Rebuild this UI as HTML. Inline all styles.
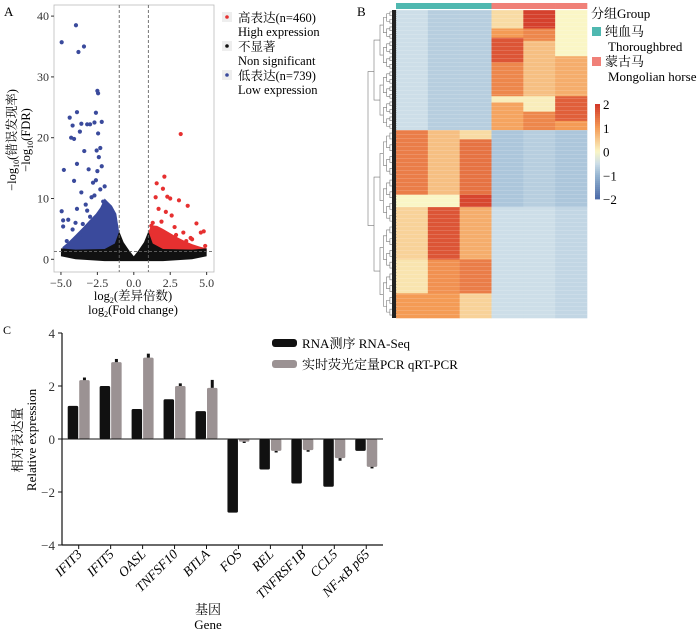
<!DOCTYPE html>
<html><head><meta charset="utf-8"><style>
html,body{margin:0;padding:0;background:#fff;}
svg{display:block;font-family:"Liberation Serif","Noto Serif CJK SC",serif;}
</style></head><body>
<svg id="fig" width="700" height="631" viewBox="0 0 700 631" xmlns="http://www.w3.org/2000/svg">
<g id="pA"></g>
<g id="pB"></g>
<g id="pC"></g>
</svg>
<script>
// ---------- Panel A data ----------
const blueX = [-4.95,-3.97,-3.42,-3.8,-2.5,-2.45,-3.9,-2.6,-4.4,-2.2,-3.2,-3.6,-4.2,-3.0,-2.7,-4.3,-4.1,-2.45,-3.7,-4.8,-4.1,-4.95,-4.85,-4.85,-3.9,-3.4,-2.55,-2.3,-2.5,-3.1,-2.8,-2.2,-3.6,-2.7,-3.9,-4.5,-3.3,-2.1,-2.6,-3.0,-4.2,-3.5,-2.3,-2.0,-2.9,-3.2,-4.0,-4.6,-3.7,-2.4];
const blueY = [35.7,38.5,35,34.1,27.7,27.3,24.2,24.1,23.3,22.6,22.2,22.3,22.0,22.2,22.5,20.0,19.8,20.7,21.0,14.7,12.9,7.9,6.4,5.4,15.7,17.8,17.9,18.3,14.5,14.8,12.6,15.3,11.0,10.5,8.3,6.5,9.0,9.5,13.0,7.0,4.9,5.8,11.5,12.0,10.2,8.0,6.0,3.0,4.0,16.8];
const redX = [3.22,2.1,1.57,2.0,2.3,2.5,3.1,1.5,3.7,1.7,2.2,2.6,4.3,4.8,4.6,3.4,1.2,3.9,2.9,1.9,1.3,2.8,4.0,4.9,3.6];
const redY = [20.6,13.6,12.5,11.6,10.3,10.0,9.7,10.2,8.8,8.3,7.8,7.2,5.9,4.6,4.4,4.4,5.5,3.5,4.0,6.2,6.0,5.3,3.3,2.2,3.0];
const blueEnvX = [-1,-1.2,-1.5,-1.8,-2.0,-2.3,-2.6,-3.0,-3.5,-4.0,-4.5,-4.9,-4.9,-1];
const blueEnvY = [4.4,7.5,8.8,9.5,10,8.5,7.5,6.5,5.2,4.0,2.8,2.0,1.3,1.3];
const redEnvX = [1,1.2,1.6,2.0,2.5,3.0,3.5,4.0,4.5,5.0,5.0,1];
const redEnvY = [4.5,5.6,5.5,5.0,4.3,3.6,3.0,2.5,2.1,1.8,1.3,1.3];
const greyEnvX = [-5,-4,-2,-1.3,-1,-0.7,-0.3,0,0.3,0.7,1,1.3,2,4,5,5,4,2,0,-2,-4,-5];
const greyEnvY = [1.8,1.6,1.7,2.6,4.6,2.8,1.4,0.5,1.4,2.8,4.6,2.6,1.7,1.6,1.8,0.5,0.0,-0.3,-0.3,-0.3,0.0,0.5];
const aXTicks = [-5,-2.5,0,2.5,5];
const aXTickLabels = ["−5.0","−2.5","0.0","2.5","5.0"];
const aYTicks = [0,10,20,30,40];

// ---------- Panel B data ----------
const col1 = [[0,0.39,-0.5],[0.39,0.6,1.3],[0.6,0.64,0.0],[0.64,0.81,0.4],[0.81,0.92,0.2],[0.92,1,1.0]];
const col2 = [[0,0.39,-0.7],[0.39,0.6,0.6],[0.6,0.64,0.0],[0.64,0.81,1.7],[0.81,0.92,1.1],[0.92,1,1.0]];
const col3 = [[0,0.39,-0.7],[0.39,0.42,0.3],[0.42,0.6,1.4],[0.6,0.64,1.85],[0.64,0.81,0.8],[0.81,0.92,1.3],[0.92,1,0.4]];
const col4 = [[0,0.06,0.3],[0.06,0.09,1.0],[0.09,0.17,1.7],[0.17,0.28,1.2],[0.28,0.3,0.1],[0.3,0.39,0.9],[0.39,0.64,-0.8],[0.64,1,-0.5]];
const col5 = [[0,0.06,1.9],[0.06,0.1,1.2],[0.1,0.28,0.6],[0.28,0.33,0.1],[0.33,0.39,1.2],[0.39,0.64,-0.7],[0.64,1,-0.5]];
const col6 = [[0,0.15,0.0],[0.15,0.28,0.8],[0.28,0.36,1.6],[0.36,0.39,1.0],[0.39,0.64,-0.8],[0.64,1,-0.6]];
const heatCols = [col1,col2,col3,col4,col5,col6];
const scaleTicks = [2,1,0,-1,-2];
const scaleTickLabels = ["2","1","0","−1","−2"];

// ---------- Panel C data ----------
const genes = ["IFIT3","IFIT5","OASL","TNFSF10","BTLA","FOS","REL","TNFRSF1B","CCL5","NF-κB p65"];
const rnaSeq = [1.25,2.0,1.13,1.5,1.05,-2.78,-1.15,-1.68,-1.8,-0.45];
const qpcr = [2.22,2.9,3.07,2.0,1.93,-0.1,-0.45,-0.42,-0.72,-1.05];
const qpcrErr = [0.1,0.12,0.15,0.1,0.3,0.05,0.06,0.06,0.1,0.06];
const cYTicks = [4,2,0,-2,-4];
const cYTickLabels = ["4","2","0","−2","−4"];

const NS="http://www.w3.org/2000/svg";
function mk(parent,tag,attrs,text){const e=document.createElementNS(NS,tag);for(const k in attrs)e.setAttribute(k,attrs[k]);if(text!==undefined)e.textContent=text;parent.appendChild(e);return e;}

// ===== Panel A =====
(function(){
const g=document.getElementById('pA');
const sx=v=>133.8+v*14.57, sy=v=>259.3-v*6.08;
let t=mk(g,'text',{x:4,y:16,'font-size':13});
t.textContent='A';
let fr=mk(g,'rect',{x:54,y:5,width:160,height:267,fill:'#fff',stroke:'#bbb','stroke-width':0.8});

let bp=mk(g,'polygon',{points:blueEnvX.map((x,i)=>sx(x)+','+sy(blueEnvY[i])).join(' '),fill:'#3a4a9c'});

let rp=mk(g,'polygon',{points:redEnvX.map((x,i)=>sx(x)+','+sy(redEnvY[i])).join(' '),fill:'#e63030'});

blueX.forEach((x,i)=>{const c=mk(g,'circle',{cx:sx(x),cy:sy(blueY[i]),r:2.1,fill:'#3a4a9c'});
});
redX.forEach((x,i)=>{const c=mk(g,'circle',{cx:sx(x),cy:sy(redY[i]),r:2.1,fill:'#e63030'});
});
let gp=mk(g,'polygon',{points:greyEnvX.map((x,i)=>sx(x)+','+sy(greyEnvY[i])).join(' '),fill:'#111'});

[-1,1].forEach(v=>{const l=mk(g,'line',{x1:sx(v),x2:sx(v),y1:5,y2:272,stroke:'#666','stroke-dasharray':'3,2','stroke-width':0.9});
});
let hl=mk(g,'line',{x1:54,x2:214,y1:sy(1.3),y2:sy(1.3),stroke:'#666','stroke-dasharray':'3,2','stroke-width':0.9});

aYTicks.forEach(v=>{const l=mk(g,'line',{x1:51,x2:54,y1:sy(v),y2:sy(v),stroke:'#333'});

const tx=mk(g,'text',{x:49,y:sy(v)+4,'font-size':12,'text-anchor':'end',fill:'#333'},String(v));
});
aXTicks.forEach((v,i)=>{const l=mk(g,'line',{x1:sx(v),x2:sx(v),y1:272,y2:275,stroke:'#333'});

const tx=mk(g,'text',{x:sx(v),y:287,'font-size':12,'text-anchor':'middle',fill:'#333'},aXTickLabels[i]);
});
let xt=mk(g,'text',{x:133,y:300,'font-size':12.5,'text-anchor':'middle'});

xt.innerHTML='log<tspan font-size="8" dy="3">2</tspan><tspan dy="-3">(差异倍数)</tspan>';
let xt2=mk(g,'text',{x:133,y:314,'font-size':12.5,'text-anchor':'middle'});

xt2.innerHTML='log<tspan font-size="8" dy="3">2</tspan><tspan dy="-3">(Fold change)</tspan>';
let yt=mk(g,'text',{transform:'translate(16,140) rotate(-90)','font-size':12.5,'text-anchor':'middle'});

yt.innerHTML='−log<tspan font-size="8" dy="3">10</tspan><tspan dy="-3">(错误发现率)</tspan>';
let yt2=mk(g,'text',{transform:'translate(30,140) rotate(-90)','font-size':12.5,'text-anchor':'middle'});

yt2.innerHTML='−log<tspan font-size="8" dy="3">10</tspan><tspan dy="-3">(FDR)</tspan>';
const leg=[['#e63030','高表达(n=460)','High expression',18],['#111','不显著','Non significant',47],['#3a4a9c','低表达(n=739)','Low expression',76]];
leg.forEach(L=>{const b=mk(g,'rect',{x:222,y:L[3]-6,width:10,height:10,fill:'#eee'});

const c=mk(g,'circle',{cx:227,cy:L[3]-1,r:1.8,fill:L[0]});

const a=mk(g,'text',{x:238,y:L[3]+4,'font-size':12.5},L[1]);

const b2=mk(g,'text',{x:238,y:L[3]+18,'font-size':12.5},L[2]);
});
})();

// ===== Panel B =====
(function(){
const g=document.getElementById('pB');
const x0=396,x1=587,y0=10,y1=318,cw=(x1-x0)/6,h=y1-y0;
const stops=[[-2,[75,106,168]],[-1,[150,182,210]],[-0.5,[205,222,232]],[0,[250,246,198]],[1,[244,155,85]],[2,[210,55,40]]];
function col(v){v=Math.max(-2,Math.min(2,v));for(let i=0;i<stops.length-1;i++){const a=stops[i],b=stops[i+1];if(v<=b[0]){const t=(v-a[0])/(b[0]-a[0]);return 'rgb('+a[1].map((c,j)=>Math.round(c+(b[1][j]-c)*t)).join(',')+')';}}return 'rgb(210,55,40)';}
let t=mk(g,'text',{x:357,y:16,'font-size':13});
t.textContent='B';
heatCols.forEach((segs,ci)=>{
 const a=mk(g,'rect',{x:x0+ci*cw,y:3,width:cw+0.3,height:6,fill:ci<3?'#4fb8b0':'#f08078'});
 
 segs.forEach(s=>{const r=mk(g,'rect',{x:x0+ci*cw,y:y0+s[0]*h,width:cw+0.3,height:(s[1]-s[0])*h+0.3,fill:col(s[2])});
 });
});
for(let y=y0;y<y1;y+=4){const l=mk(g,'rect',{x:x0,y:y,width:x1-x0,height:1,fill:'#fff',opacity:0.15});
}
const dg=mk(g,'g',{stroke:'#777','stroke-width':0.6,fill:'none'});

function tree(a,b,depth,x){ if(depth>6){return;} const m=(a+b)/2; const cx=x+ (depth<2?6:3.3);
 const ya=(a+m)/2, yb=(m+b)/2;
 mk(dg,'path',{d:`M${cx},${ya} H${x} V${yb} H${cx}`});
 tree(a,m,depth+1,cx);tree(m,b,depth+1,cx);}
mk(dg,'path',{d:`M374,${y0+0.2*h} H368 V${y0+0.7*h} H374`});
tree(y0,y0+0.39*h,1,374);tree(y0+0.39*h,y1,1,374);
const dk=mk(g,'rect',{x:392,y:y0,width:4,height:h,fill:'#222'});

let lt=mk(g,'text',{x:591,y:18,'font-size':13},'分组Group');

[['#4fb8b0','纯血马','Thoroughbred',32],['#f08078','蒙古马','Mongolian horse',62]].forEach(L=>{
 const r=mk(g,'rect',{x:592,y:L[3]-5,width:9,height:9,fill:L[0]});
 
 const a=mk(g,'text',{x:605,y:L[3]+4,'font-size':13},L[1]);
 
 const b=mk(g,'text',{x:608,y:L[3]+19,'font-size':13},L[2]);
 });
const cbTop=104,cbBot=199;const cs=v=>cbTop+(2-v)/4*(cbBot-cbTop);
for(let i=0;i<48;i++){const v=2-4*i/48;const r=mk(g,'rect',{x:595,y:cs(v),width:5,height:(cbBot-cbTop)/48+0.4,fill:col(v-0.04)});
}
scaleTicks.forEach((v,i)=>{const tx=mk(g,'text',{x:603,y:cs(v)+5,'font-size':13},scaleTickLabels[i]);
});
})();

// ===== Panel C =====
(function(){
const g=document.getElementById('pC');
const sy=v=>439-v*26.5;
const tick0=78.7, step=31.95, bw=10.5;
let t=mk(g,'text',{x:3,y:334,'font-size':12});
t.textContent='C';
genes.forEach((gname,i)=>{const tx=tick0+i*step;
 const v=rnaSeq[i];const b=mk(g,'rect',{x:tx-bw-0.5,y:Math.min(sy(v),sy(0)),width:bw,height:Math.abs(sy(v)-sy(0)),fill:'#111',rx:1.5});
 
 const q=qpcr[i];const b2=mk(g,'rect',{x:tx+0.5,y:Math.min(sy(q),sy(0)),width:bw,height:Math.abs(sy(q)-sy(0)),fill:'#9b9293',rx:1.5});
 
 const e=q>=0?q+qpcrErr[i]:q-qpcrErr[i];
 const eb=mk(g,'line',{x1:tx+5.75,x2:tx+5.75,y1:sy(q),y2:sy(e),stroke:'#111','stroke-width':3});
 
 const tk=mk(g,'line',{x1:tx,x2:tx,y1:545,y2:549,stroke:'#111'});
 
 const lb=mk(g,'text',{transform:`translate(${tx+4},555) rotate(-45)`,'font-size':13.5,'font-style':'italic','text-anchor':'end'},gname);
 
});
const ya=mk(g,'line',{x1:62,x2:62,y1:333,y2:545,stroke:'#111','stroke-width':1.2});

const xa=mk(g,'line',{x1:62,x2:383,y1:545,y2:545,stroke:'#111','stroke-width':1.2});

const zl=mk(g,'line',{x1:62,x2:383,y1:439,y2:439,stroke:'#111','stroke-width':1});

cYTicks.forEach((v,i)=>{const l=mk(g,'line',{x1:58,x2:62,y1:sy(v),y2:sy(v),stroke:'#111'});

const tx=mk(g,'text',{x:55,y:sy(v)+5,'font-size':13,'text-anchor':'end',fill:'#333'},cYTickLabels[i]);
});
const y1=mk(g,'text',{transform:'translate(22,440) rotate(-90)','font-size':13,'text-anchor':'middle'},'相对表达量');

const y2=mk(g,'text',{transform:'translate(36,440) rotate(-90)','font-size':13,'text-anchor':'middle'},'Relative expression');

const x1=mk(g,'text',{x:208,y:614,'font-size':13,'text-anchor':'middle'},'基因');

const x2=mk(g,'text',{x:208,y:629,'font-size':13,'text-anchor':'middle'},'Gene');

[['#111','RNA测序 RNA-Seq',343],['#9b9293','实时荧光定量PCR qRT-PCR',364]].forEach(L=>{
 const r=mk(g,'rect',{x:272,y:L[2]-4,width:25,height:8,rx:3,fill:L[0]});
 
 const a=mk(g,'text',{x:302,y:L[2]+5,'font-size':13},L[1]);
 });
})();
</script>
</body></html>
